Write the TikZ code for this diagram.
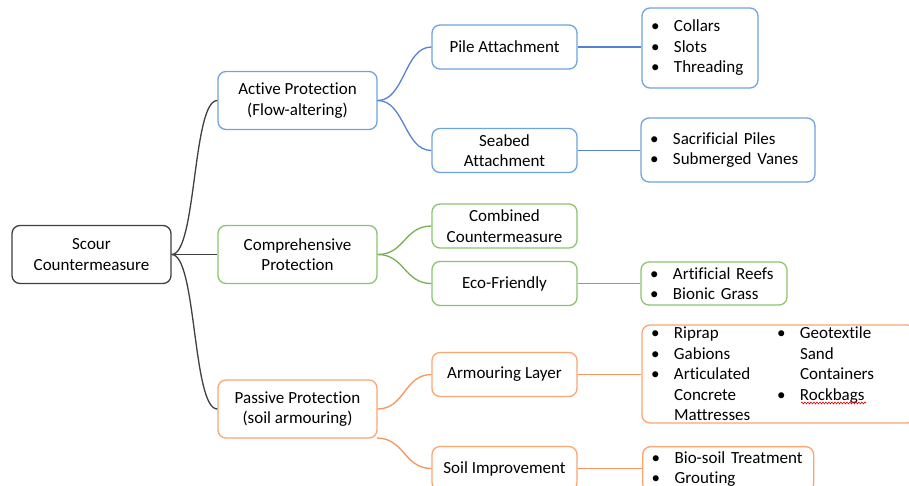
\documentclass[tikz,border=0pt]{standalone}
\usepackage{fontspec}
\setmainfont{Carlito}[Ligatures=NoCommon]
\usetikzlibrary{decorations.pathmorphing}
\definecolor{rootc}{RGB}{64,64,64}
\definecolor{blueb}{RGB}{112,164,222}
\definecolor{bluel}{RGB}{86,130,210}
\definecolor{greenb}{RGB}{140,196,112}
\definecolor{greenl}{RGB}{118,178,82}
\definecolor{orangeb}{RGB}{250,165,115}
\definecolor{orangel}{RGB}{247,150,92}
\tikzset{
  box/.style={draw, rounded corners=8pt, line width=1.3pt, fill=white,
    font=\fontsize{17}{20.5}\selectfont, align=center, inner sep=0pt,
    text=black},
  lvl1/.style={box, minimum width=159pt, minimum height=58pt},
  lvl2/.style={box, minimum width=145pt, minimum height=44pt},
  listbox/.style={draw, rounded corners=8pt, line width=1.3pt, fill=white,
    font=\fontsize{17}{20.5}\selectfont, align=left, inner xsep=9pt, inner ysep=0pt,
    text=black},
  link/.style={line width=1.3pt},
}
\newcommand{\itm}[1]{\makebox[23pt][l]{•}#1}
\newcommand{\cnt}[1]{\hspace*{23pt}#1}
\begin{document}
\begin{tikzpicture}[x=1pt,y=-1pt]
\clip (0,0) rectangle (909,485);
\fill[white] (0,0) rectangle (909,485);
\coordinate (pse) at (377,438);
% level 1 nodes
\node[lvl1, draw=rootc] (root) at (91.5,254.5) {Scour\\Countermeasure};
\node[lvl1, draw=blueb] (active) at (297.5,100.5) {Active Protection\\(Flow-altering)};
\node[lvl1, draw=greenb] (comp) at (297.5,254.5) {Comprehensive\\Protection};
\node[lvl1, draw=orangeb] (passive) at (297.5,409) {Passive Protection\\(soil armouring)};
% level 2
\node[lvl2, draw=blueb] (pile) at (504.5,47) {Pile Attachment};
\node[lvl2, draw=blueb] (seabed) at (504.5,150.5) {Seabed\\Attachment};
\node[lvl2, draw=greenb] (combined) at (504.5,226) {Combined\\Countermeasure};
\node[lvl2, draw=greenb] (eco) at (504.5,283.5) {Eco-Friendly};
\node[lvl2, draw=orangeb] (armour) at (504.5,374.5) {Armouring Layer};
\node[lvl2, draw=orangeb] (soil) at (504.5,468.5) {Soil Improvement};
% level 3
\node[listbox, draw=blueb, text width=98pt, minimum height=80pt] (collars) at (700,48)
  {\itm{Collars}\\\itm{Slots}\\\itm{Threading}};
\node[listbox, draw=blueb, text width=156pt, minimum height=64pt] (sacr) at (728,150)
  {\itm{Sacrificial Piles}\\\itm{Submerged Vanes}};
\node[listbox, draw=greenb, text width=128pt, minimum height=43pt] (reefs) at (714,283.5)
  {\itm{Artificial Reefs}\\\itm{Bionic Grass}};
\node[listbox, draw=orangeb, text width=255pt, minimum height=98pt] (armlist) at (778.5,374)
  {\parbox[t]{126pt}{\itm{Riprap}\\\itm{Gabions}\\\itm{Articulated}\\\cnt{Concrete}\\\cnt{Mattresses}}%
   \parbox[t]{125pt}{\itm{Geotextile}\\\cnt{Sand}\\\cnt{Containers}\\\itm{Rockbags}}};
\node[listbox, draw=orangeb, text width=153pt, minimum height=45pt, anchor=north west] (bio) at (642,446)
  {\itm{Bio-soil Treatment}\\\itm{Grouting}};
% spell-check underline
\draw[red!85!black, line width=0.6pt, decorate, decoration={snake, amplitude=0.9pt, segment length=3pt}]
  (801,403) -- (866,403);
% links root
\draw[link, rootc] (root.east) .. controls +(25,0) and +(-25,0) .. (active.west);
\draw[link, rootc] (root.east) -- (comp.west);
\draw[link, rootc] (root.east) .. controls +(25,0) and +(-25,0) .. (passive.west);
% blue
\draw[link, bluel] (active.east) .. controls +(27,0) and +(-27,0) .. (pile.west);
\draw[link, bluel] (active.east) .. controls +(27,0) and +(-27,0) .. (seabed.west);
\draw[link, bluel] (pile.east) -- (collars.west |- pile.east);
\draw[link, bluel] (seabed.east) -- (sacr.west |- seabed.east);
% green
\draw[link, greenl] (comp.east) .. controls +(27,0) and +(-27,0) .. (combined.west);
\draw[link, greenl] (comp.east) .. controls +(27,0) and +(-27,0) .. (eco.west);
\draw[link, greenl] (eco.east) -- (reefs.west |- eco.east);
% orange
\draw[link, orangel] (passive.east) .. controls +(27,0) and +(-27,0) .. (armour.west);
\draw[link, orangel] (pse) .. controls +(27,0) and +(-27,0) .. (soil.west);
\draw[link, orangel] (armour.east) -- (armlist.west |- armour.east);
\draw[link, orangel] (soil.east) -- (bio.west |- soil.east);
\end{tikzpicture}
\end{document}
